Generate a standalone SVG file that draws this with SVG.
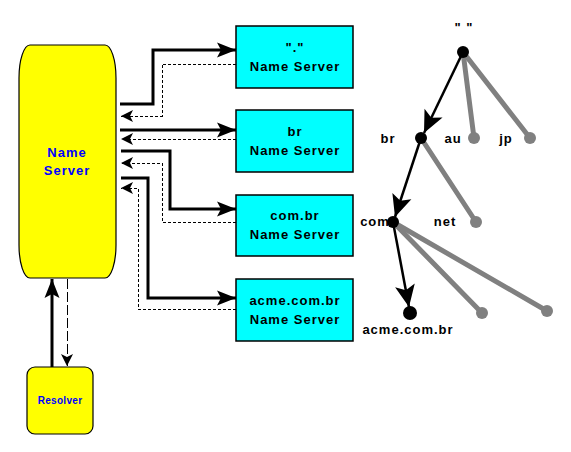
<svg xmlns="http://www.w3.org/2000/svg" width="571" height="452" viewBox="0 0 571 452">
<style>
.ybox{fill:#ffff00;stroke:#000;stroke-width:1.2}
.cbox{fill:#00ffff;stroke:#000;stroke-width:1.5}
.t{font-family:"Liberation Sans",Arial,sans-serif;font-weight:bold;font-size:13px;fill:#000;text-anchor:middle;letter-spacing:1px}
.bt{font-family:"Liberation Sans",Arial,sans-serif;font-weight:bold;font-size:13px;fill:#0000ff;text-anchor:middle;letter-spacing:1px}
.sm{font-family:"Liberation Sans",Arial,sans-serif;font-weight:bold;font-size:10px;fill:#0000ff;text-anchor:middle;letter-spacing:0.3px}
.sol{fill:none;stroke:#000;stroke-width:3;marker-end:url(#big)}
.das{fill:none;stroke:#000;stroke-width:1;stroke-dasharray:3,2;marker-end:url(#small);shape-rendering:crispEdges}
.tb{fill:none;stroke:#000;stroke-width:2.5;marker-end:url(#tree)}
.tg{fill:none;stroke:#808080;stroke-width:5;stroke-linecap:round}
.dk{fill:#000}
.dg{fill:#808080}
</style>
<defs>
<marker id="big" markerUnits="userSpaceOnUse" viewBox="-20 -9 21 18" refX="0" refY="0" markerWidth="21" markerHeight="18" orient="auto" overflow="visible">
<path d="M0,0 L-19,-7.5 L-15,0 L-19,7.5 Z" fill="#000"/>
</marker>
<marker id="small" markerUnits="userSpaceOnUse" viewBox="-13 -7 14 14" refX="0" refY="0" markerWidth="14" markerHeight="14" orient="auto" overflow="visible">
<path d="M0,0 L-12,-6 L-9,0 L-12,6 Z" fill="#000"/>
</marker>
<marker id="tree" markerUnits="userSpaceOnUse" viewBox="-24 -11 25 22" refX="0" refY="0" markerWidth="25" markerHeight="22" orient="auto" overflow="visible">
<path d="M0,0 L-22,-10 L-17,0 L-22,10 Z" fill="#000"/>
</marker>
</defs>

<g id="connectors">
<path class="sol" d="M120,104 H153 V50 H236"/>
<path class="das" d="M236,64 H162 V116 H121"/>
<path class="sol" d="M120,130 H236"/>
<path class="das" d="M236,139 H121"/>
<path class="sol" d="M121,151 H170 V209 H236"/>
<path class="das" d="M236,222 H162 V163 H121"/>
<path class="sol" d="M121,178 H148 V298 H236"/>
<path class="das" d="M236,309 H138 V188 H121"/>
<path class="sol" d="M52,367 V279"/>
<path fill="none" stroke="#000" stroke-width="1" stroke-dasharray="10,3" shape-rendering="crispEdges" marker-end="url(#small)" d="M67,279 V366"/>
</g>

<g id="name-server">
<rect class="ybox" x="19" y="45" width="97" height="233" rx="11" ry="33"/>
<text class="bt" x="67" y="157">Name</text>
<text class="bt" x="67" y="175">Server</text>
</g>

<g id="resolver">
<rect class="ybox" x="27" y="367" width="66" height="67" rx="8"/>
<text class="sm" x="60" y="404">Resolver</text>
</g>

<g id="root-ns">
<rect class="cbox" x="236" y="26" width="117" height="62"/>
<text class="t" x="295" y="52">"."</text>
<text class="t" x="295" y="71">Name Server</text>
</g>
<g id="br-ns">
<rect class="cbox" x="236" y="110" width="117" height="62"/>
<text class="t" x="295" y="136">br</text>
<text class="t" x="295" y="155">Name Server</text>
</g>
<g id="combr-ns">
<rect class="cbox" x="236" y="195" width="117" height="61"/>
<text class="t" x="295" y="220">com.br</text>
<text class="t" x="295" y="239">Name Server</text>
</g>
<g id="acme-ns">
<rect class="cbox" x="236" y="279" width="117" height="62"/>
<text class="t" x="295" y="305">acme.com.br</text>
<text class="t" x="295" y="324">Name Server</text>
</g>

<g id="tree">
<g id="tree-edges">
<line class="tg" x1="463" y1="52" x2="474" y2="138"/>
<line class="tg" x1="463" y1="52" x2="530" y2="138"/>
<line class="tg" x1="421" y1="138" x2="476" y2="222"/>
<line class="tg" x1="393" y1="222" x2="482" y2="313"/>
<line class="tg" x1="393" y1="222" x2="547" y2="311"/>
<line class="tb" x1="463" y1="52" x2="424" y2="133"/>
<line class="tb" x1="421" y1="138" x2="395" y2="217"/>
<line class="tb" x1="393" y1="222" x2="409" y2="307"/>
</g>
<g id="tree-nodes">
<circle class="dk" cx="463" cy="52" r="6"/>
<circle class="dk" cx="421" cy="138" r="6"/>
<circle class="dk" cx="393" cy="222" r="6"/>
<circle class="dk" cx="410" cy="313" r="7"/>
<circle class="dg" cx="474" cy="138" r="6"/>
<circle class="dg" cx="530" cy="138" r="6"/>
<circle class="dg" cx="476" cy="222" r="6"/>
<circle class="dg" cx="482" cy="313" r="6"/>
<circle class="dg" cx="547" cy="311" r="6"/>
</g>
<g id="tree-labels">
<text class="t" x="464" y="32">" "</text>
<text class="t" x="388" y="143">br</text>
<text class="t" x="453" y="143">au</text>
<text class="t" x="506" y="143">jp</text>
<text class="t" x="375" y="226">com</text>
<text class="t" x="445" y="226">net</text>
<text class="t" x="408" y="334">acme.com.br</text>
</g>
</g>
</svg>
